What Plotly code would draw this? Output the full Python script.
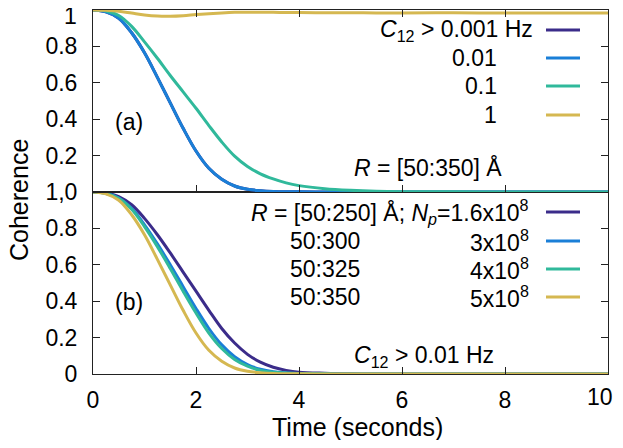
import plotly.graph_objects as go

# time samples (seconds)
t = [0, 0.25, 0.5, 0.75, 1.0, 1.25, 1.5, 1.75, 2.0, 2.25, 2.5, 2.75, 3.0, 3.25, 3.5, 3.75, 4.0,
     4.5, 5.0, 5.5, 6.0, 7.0, 8.0, 9.0, 10.0]

# panel (a): R = [50:350] A, different C12 cut-offs
a_c0001 = [1.0, 0.99, 0.955, 0.875, 0.765, 0.63, 0.49, 0.35, 0.225, 0.13, 0.07, 0.033, 0.015, 0.007, 0.003, 0.0015, 0.001,
           0, 0, 0, 0, 0, 0, 0, 0]
a_c001 = [1.0, 0.99, 0.955, 0.875, 0.765, 0.63, 0.49, 0.35, 0.225, 0.13, 0.07, 0.033, 0.015, 0.007, 0.003, 0.0015, 0.001,
          0, 0, 0, 0, 0, 0, 0, 0]
a_c01 = [1.0, 0.995, 0.97, 0.91, 0.825, 0.735, 0.64, 0.55, 0.46, 0.365, 0.275, 0.197, 0.14, 0.10, 0.072, 0.05, 0.035,
         0.018, 0.009, 0.004, 0.002, 0.001, 0, 0, 0]
a_c1 = [1.0, 0.998, 0.993, 0.983, 0.973, 0.967, 0.966, 0.969, 0.975, 0.98, 0.984, 0.987, 0.988, 0.988, 0.987, 0.986, 0.986,
        0.985, 0.985, 0.984, 0.984, 0.985, 0.983, 0.984, 0.983]

# panel (b): C12 > 0.01 Hz, different R ranges / Np
b_250 = [1.0, 0.995, 0.975, 0.93, 0.855, 0.765, 0.665, 0.56, 0.455, 0.35, 0.25, 0.17, 0.108, 0.065, 0.037, 0.02, 0.01,
         0.004, 0.001, 0, 0, 0, 0, 0, 0]
b_300 = [1.0, 0.993, 0.967, 0.91, 0.82, 0.715, 0.6, 0.48, 0.36, 0.25, 0.16, 0.095, 0.052, 0.026, 0.012, 0.006, 0.003,
         0.001, 0, 0, 0, 0, 0, 0, 0]
b_325 = [1.0, 0.992, 0.965, 0.905, 0.81, 0.7, 0.58, 0.455, 0.335, 0.225, 0.14, 0.08, 0.043, 0.02, 0.009, 0.005, 0.003,
         0.001, 0, 0, 0, 0, 0, 0, 0]
b_350 = [1.0, 0.99, 0.955, 0.875, 0.765, 0.63, 0.49, 0.35, 0.225, 0.13, 0.07, 0.033, 0.015, 0.007, 0.003, 0.0015, 0.001,
         0, 0, 0, 0, 0, 0, 0, 0]

x_ticks = [0, 2, 4, 6, 8, 10]

colors = ['#3b2c8a', '#1a7fd7', '#30b99b', '#d5b851']
a_series = [a_c0001, a_c001, a_c01, a_c1]
b_series = [b_250, b_300, b_325, b_350]
a_labels = ['<i>C</i><sub>12</sub> > 0.001 Hz', '0.01', '0.1', '1']
b_left = ['<i>R</i> = [50:250] Å; <i>N</i><sub><i>p</i></sub>=1.6x10<sup>8</sup>', '50:300', '50:325', '50:350']
b_right = ['', '3x10<sup>8</sup>', '4x10<sup>8</sup>', '5x10<sup>8</sup>']

FONT = 'Liberation Sans'
FS = 23
OFF = 8  # default page body margin in the browser
# plot box on screen: x 93..608, y 10..374
W, H = 623 - OFF, 448 - 2 * OFF
L, T = 93 - OFF, 10 - OFF
R = W - (608 - OFF)
B = H - (374 - OFF)


def px(x):
    # screen pixel -> paper fraction
    return (x - OFF - L) / (W - L - R)


def py(y):
    return (H - B - (y - OFF)) / (H - T - B)


def note(x, y, text, anchor='left', size=FS, **kw):
    return dict(x=px(x), y=py(y), xref='paper', yref='paper', text=text, showarrow=False,
                xanchor=anchor, yanchor='middle', font=dict(size=size), **kw)


fig = go.Figure()
for vals, c in zip(a_series, colors):
    fig.add_trace(go.Scatter(x=t, y=vals, mode='lines', line=dict(color=c, width=3, shape='spline', smoothing=1.0),
                             xaxis='x2', yaxis='y2', showlegend=False))
for vals, c in zip(b_series, colors):
    fig.add_trace(go.Scatter(x=t, y=vals, mode='lines', line=dict(color=c, width=3, shape='spline', smoothing=1.0),
                             xaxis='x', yaxis='y', showlegend=False))

shapes = []
annotations = []
# legend of panel (a)
rows_a = [30, 58, 86, 115]
for i, (lab, c) in enumerate(zip(a_labels, colors)):
    shapes.append(dict(type='line', xref='paper', yref='paper', x0=px(546), x1=px(580), y0=py(rows_a[i]), y1=py(rows_a[i]),
                       line=dict(color=c, width=3)))
    annotations.append(note(535 if i == 0 else 499, rows_a[i], lab, 'right'))
# legend of panel (b)
rows_b = [212, 241, 269, 297]
for i, c in enumerate(colors):
    shapes.append(dict(type='line', xref='paper', yref='paper', x0=px(546), x1=px(580), y0=py(rows_b[i]), y1=py(rows_b[i]),
                       line=dict(color=c, width=3)))
    if i == 0:
        annotations.append(note(531, rows_b[i], b_left[i], 'right'))
    else:
        annotations.append(note(288, rows_b[i], b_left[i], 'left'))
        annotations.append(note(531, rows_b[i], b_right[i], 'right'))

annotations += [
    note(352, 167, '<i>R</i> = [50:350] Å'),
    note(352, 356, '<i>C</i><sub>12</sub> > 0.01 Hz'),
    note(113, 122, '(a)'),
    note(113, 302, '(b)'),
    note(79, 16, '1', 'right'),
    note(615, 397, '10', 'right'),
    note(357, 427, 'Time (seconds)', 'center', size=25),
    note(19, 200, 'Coherence', 'center', size=25, textangle=-90),
]

axis_common = dict(showgrid=False, zeroline=False, showline=True, linecolor='#222', linewidth=1, automargin=False,
                   ticks='inside', ticklen=7, tickcolor='#222', tickfont=dict(size=FS, color='black'),
                   ticklabeloverflow='allow')

fig.update_layout(
    width=W, height=H,
    margin=dict(l=L, r=R, t=T, b=B),
    paper_bgcolor='white', plot_bgcolor='white',
    font=dict(family=FONT, color='black'),
    xaxis=dict(domain=[0, 1], anchor='y', range=[0, 10], tickvals=x_ticks,
               ticktext=[str(v) if v < 10 else '' for v in x_ticks], mirror=True,
               ticklabelstandoff=5, **axis_common),
    xaxis2=dict(domain=[0, 1], anchor='y2', range=[0, 10], tickvals=x_ticks, mirror='ticks',
                showticklabels=False, **axis_common),
    yaxis=dict(domain=[0, 0.5], anchor='x', range=[0, 1], tickvals=[0, 0.2, 0.4, 0.6, 0.8, 1.0],
               ticktext=['0', '0.2', '0.4', '0.6', '0.8', '1,0'], mirror='ticks', ticklabelstandoff=10, **axis_common),
    yaxis2=dict(domain=[0.5, 1], anchor='x2', range=[0, 1], tickvals=[0, 0.2, 0.4, 0.6, 0.8, 1.0],
                ticktext=['', '0.2', '0.4', '0.6', '0.8', ''], mirror='ticks', ticklabelstandoff=10, **axis_common),
    shapes=shapes,
    annotations=annotations,
)

fig.write_html("out.html")
